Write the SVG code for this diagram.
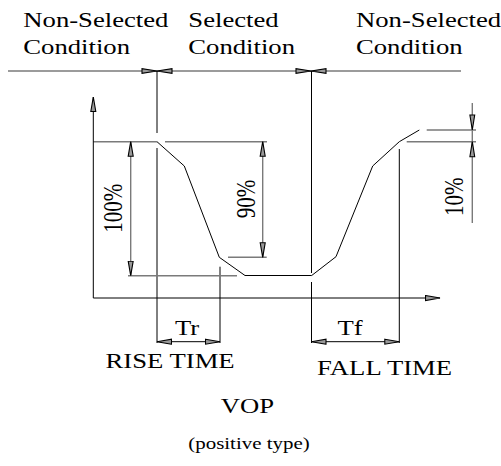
<svg xmlns="http://www.w3.org/2000/svg" width="501" height="466" viewBox="0 0 501 466">
<defs>
<style>
.t{font-family:"Liberation Serif","Times New Roman",serif;font-size:21px;fill:#000}
.s{font-size:16.5px}
.g{stroke:#7a7a7a;stroke-width:1.4;fill:none}
.k{stroke:#000;stroke-width:1;fill:none}
.ah{fill:#999;stroke:#000;stroke-width:1.1;stroke-linejoin:miter}
</style>
<marker id="arr" markerUnits="userSpaceOnUse" viewBox="0 0 16 7" markerWidth="16" markerHeight="7" refX="15" refY="3.5" orient="auto-start-reverse">
<path d="M0.5,1 L15,3.5 L0.5,6 Z" fill="#999" stroke="#000" stroke-width="1.1"/>
</marker>
</defs>
<rect width="501" height="466" fill="#fff"/>

<g id="condition-bar">
<path class="g" d="M8,71 H461"/>
<path class="ah" d="M157,71 L142,68.6 L142,73.4 Z M157,71 L172,68.6 L172,73.4 Z"/>
<path class="ah" d="M311,71 L296,68.6 L296,73.4 Z M311,71 L326,68.6 L326,73.4 Z"/>
</g>

<g id="guides">
<path class="k" d="M157,71 V133 M157,148 V343"/>
<path class="k" d="M311.5,71 V273 M311.5,282 V343"/>
<path class="k" d="M220,266.7 V343"/>
<path class="k" d="M399.3,149 V343"/>
<path class="g" d="M93.3,141.7 H157 M165,141.7 H267"/>
<path class="g" d="M128,275.7 H237"/>
<path class="g" d="M228,257.3 H266.7"/>
<path class="g" d="M426.7,130 H476 M406.7,141.7 H476"/>
</g>

<g id="axes">
<path class="k" d="M93.3,298 V97" marker-end="url(#arr)"/>
<path class="k" d="M93.3,298 H440" marker-end="url(#arr)"/>
</g>

<g id="waveform">
<path class="k" d="M157,141.7 L184.3,166 L219.3,257.3 L245,275.5 L311.7,275.5 L336,256.7 L372.7,166 L399.3,141.7 L419.3,130"/>
</g>

<g id="connectors">
<path class="g" d="M130.7,141.7 V275.7" marker-start="url(#arr)" marker-end="url(#arr)"/>
<path class="g" d="M262.7,141.7 V257.3" marker-start="url(#arr)" marker-end="url(#arr)"/>
<path class="g" d="M472.3,103 V223"/>
<path class="ah" d="M472.3,130 L469.9,115 L474.7,115 Z M472.3,141.7 L469.9,156.7 L474.7,156.7 Z"/>
<path class="k" d="M157,341.7 H220" marker-start="url(#arr)" marker-end="url(#arr)"/>
<path class="k" d="M311.5,341.7 H399.3" marker-start="url(#arr)" marker-end="url(#arr)"/>
</g>

<g id="labels">
<text class="t" transform="translate(23.3,27.3) scale(1.27,1)">Non-Selected</text>
<text class="t" transform="translate(23.3,54.3) scale(1.27,1)">Condition</text>
<text class="t" transform="translate(188.3,27.3) scale(1.27,1)">Selected</text>
<text class="t" transform="translate(188.3,54.3) scale(1.27,1)">Condition</text>
<text class="t" transform="translate(356,27) scale(1.27,1)">Non-Selected</text>
<text class="t" transform="translate(356,54.3) scale(1.27,1)">Condition</text>
<text class="t" text-anchor="middle" transform="translate(121.7,208.3) scale(1.27,1) rotate(-90)">100%</text>
<text class="t" text-anchor="middle" transform="translate(255,199) scale(1.27,1) rotate(-90)">90%</text>
<text class="t" text-anchor="middle" transform="translate(463.3,196.7) scale(1.27,1) rotate(-90)">10%</text>
<text class="t" text-anchor="middle" transform="translate(187,335) scale(1.27,1)">Tr</text>
<text class="t" text-anchor="middle" transform="translate(350,335) scale(1.27,1)">Tf</text>
<text class="t" transform="translate(105.5,368.3) scale(1.27,1)">RISE TIME</text>
<text class="t" transform="translate(317,375) scale(1.27,1)">FALL TIME</text>
<text class="t" text-anchor="middle" transform="translate(247.5,413.3) scale(1.27,1)">VOP</text>
<text class="t s" text-anchor="middle" transform="translate(249,449) scale(1.27,1)">(positive type)</text>
</g>
</svg>
